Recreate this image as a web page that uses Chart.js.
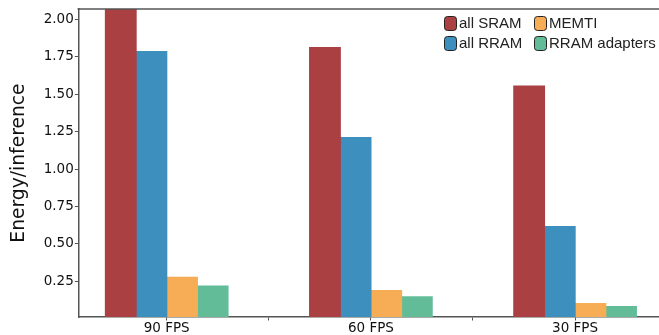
<!DOCTYPE html>
<html>
<head>
<meta charset="utf-8">
<script src="https://cdn.jsdelivr.net/npm/chart.js@4"></script>
<style>
  html, body { margin: 0; padding: 0; background: #fff; overflow: hidden; }
  #wrap { width: 664px; height: 335px; position: relative; }
</style>
</head>
<body>
<div id="wrap"><canvas id="grafico"></canvas></div>
<script>

// data
const categorias = ["90 FPS", "60 FPS", "30 FPS"];
const series = ["all SRAM", "all RRAM", "MEMTI", "RRAM adapters"];
const allSram = [2.07, 1.813, 1.554];
const allRram = [1.786, 1.21, 0.614];
const memti = [0.276, 0.186, 0.10];
const rramAdapters = [0.217, 0.144, 0.08];
const yTicks = [0.25, 0.5, 0.75, 1.0, 1.25, 1.5, 1.75, 2.0];
const xTicks = [0, 0.5, 1, 1.5, 2];

const cores = ["#aa4041", "#3d8fbd", "#f7ad55", "#62bc98"];
const valores = [allSram, allRram, memti, rramAdapters];

const eixo = "#555";

// legend drawn inside the plot (2 columns, like the original)
const legendaDentro = {
  id: "legendaDentro",
  afterDraw(chart){
    const ctx = chart.ctx;
    const area = chart.chartArea;

    // top spine
    ctx.save();
    ctx.strokeStyle = eixo;
    ctx.lineWidth = 1.5;
    ctx.beginPath();
    ctx.moveTo(area.left - 0.75, area.top);
    ctx.lineTo(area.right, area.top);
    ctx.stroke();

    const colX = [444, 534];
    const rowY = [23, 43];
    ctx.font = "15px 'Liberation Sans', Arial, sans-serif";
    ctx.textBaseline = "middle";
    ctx.textAlign = "left";
    chart.data.datasets.forEach((ds, k) => {
      const x = colX[Math.floor(k / 2)];
      const y = rowY[k % 2];
      ctx.fillStyle = ds.backgroundColor;
      ctx.strokeStyle = "#222";
      ctx.lineWidth = 1;
      ctx.beginPath();
      ctx.roundRect(x + 0.5, y - 6.5, 12, 14, 3);
      ctx.fill();
      ctx.stroke();
      ctx.fillStyle = "#222";
      ctx.fillText(ds.label, x + 15, y + 1);
    });
    ctx.restore();
  }
};

const ctx = document.getElementById("grafico");

new Chart(ctx, {

  type: 'bar',

  data: {
    datasets: series.map((nome, i) => ({
      label: nome,
      data: valores[i].map((v, j) => ({x: j, y: v})),
      backgroundColor: cores[i],
      borderWidth: 0,
      inflateAmount: 0.6,
      categoryPercentage: 1.2,
      barPercentage: 1
    }))
  },

  options: {
    responsive: true,
    maintainAspectRatio: false,
    animation: false,
    layout: {
      padding: {top: 6, right: 0.5, left: 0, bottom: 0}
    },
    plugins: {
      legend: {display: false},
      tooltip: {enabled: false}
    },
    scales: {
      x: {
        type: 'linear',
        offset: false,
        min: -0.433,
        max: 2.433,
        z: 1,
        afterBuildTicks: s => { s.ticks = xTicks.map(v => ({value: v})); },
        afterFit: s => { s.height = 18; },
        grid: {
          offset: false,
          drawOnChartArea: false,
          tickLength: 3.5,
          tickColor: eixo,
          tickWidth: 1
        },
        border: {color: eixo, width: 1.5},
        ticks: {
          autoSkip: false,
          maxRotation: 0,
          padding: 0,
          color: '#111',
          font: {family: "'DejaVu Sans'", size: 13.5},
          callback: v => Number.isInteger(v) ? categorias[v] : ''
        }
      },
      y: {
        min: 0.01,
        max: 2.07,
        z: 1,
        afterBuildTicks: s => { s.ticks = yTicks.map(v => ({value: v})); },
        afterFit: s => { s.width = 78.3; },
        grid: {
          drawOnChartArea: false,
          tickLength: 3.5,
          tickColor: eixo,
          tickWidth: 1
        },
        border: {color: eixo, width: 1.5},
        ticks: {
          padding: 1,
          color: '#111',
          font: {family: "'DejaVu Sans'", size: 13.5},
          callback: v => v.toFixed(2)
        },
        title: {
          display: true,
          text: 'Energy/inference',
          color: '#111',
          font: {family: "'DejaVu Sans'", size: 18.7},
          padding: {top: 8, bottom: 0}
        }
      }
    }
  },

  plugins: [legendaDentro]

});

</script>
</body>
</html>
